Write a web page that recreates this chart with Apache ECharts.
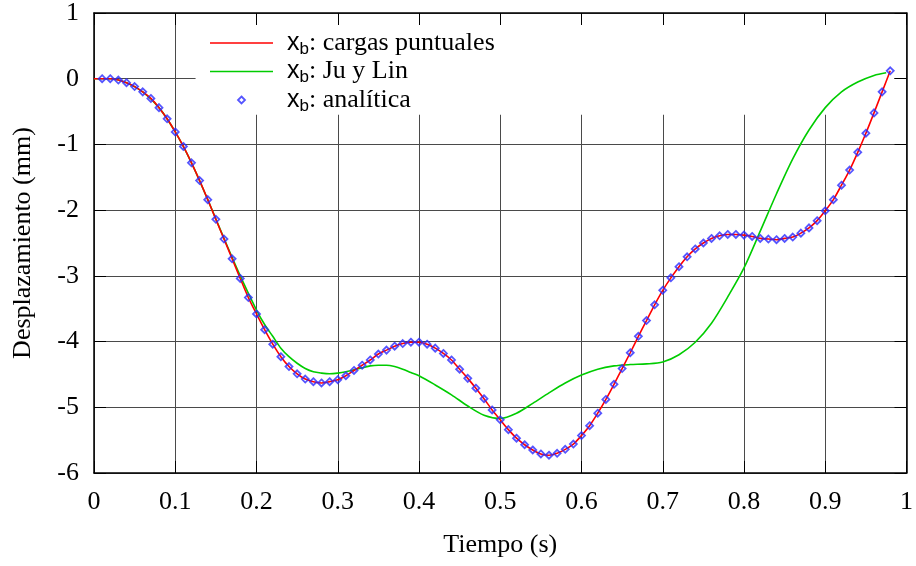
<!DOCTYPE HTML>
<html>
<head>
  <meta charset="utf-8" />
  <title>Desplazamiento x_b</title>
  <style>
    html, body { margin: 0; padding: 0; background: #fff; }
    #main { width: 916px; height: 566px; }
  </style>
</head>
<body>
  <div id="main"></div>
  <script src="https://cdn.jsdelivr.net/npm/echarts@6.0.0/dist/echarts.min.js"></script>
  <script type="text/javascript">
    // ejes
    var xTicks = [0, 0.1, 0.2, 0.3, 0.4, 0.5, 0.6, 0.7, 0.8, 0.9, 1];
    var yTicks = [-6, -5, -4, -3, -2, -1, 0, 1];

    // x_b analitica (cada 0.01 s)
    var tAnalitica = [0.01, 0.02, 0.03, 0.04, 0.05, 0.06, 0.07, 0.08, 0.09, 0.10,
      0.11, 0.12, 0.13, 0.14, 0.15, 0.16, 0.17, 0.18, 0.19, 0.20,
      0.21, 0.22, 0.23, 0.24, 0.25, 0.26, 0.27, 0.28, 0.29, 0.30,
      0.31, 0.32, 0.33, 0.34, 0.35, 0.36, 0.37, 0.38, 0.39, 0.40,
      0.41, 0.42, 0.43, 0.44, 0.45, 0.46, 0.47, 0.48, 0.49, 0.50,
      0.51, 0.52, 0.53, 0.54, 0.55, 0.56, 0.57, 0.58, 0.59, 0.60,
      0.61, 0.62, 0.63, 0.64, 0.65, 0.66, 0.67, 0.68, 0.69, 0.70,
      0.71, 0.72, 0.73, 0.74, 0.75, 0.76, 0.77, 0.78, 0.79, 0.80,
      0.81, 0.82, 0.83, 0.84, 0.85, 0.86, 0.87, 0.88, 0.89, 0.90,
      0.91, 0.92, 0.93, 0.94, 0.95, 0.96, 0.97, 0.98];
    var xAnalitica = [0, 0, -0.02, -0.06, -0.12, -0.20, -0.30, -0.44, -0.61, -0.81,
      -1.03, -1.28, -1.55, -1.84, -2.14, -2.44, -2.74, -3.04, -3.33, -3.58,
      -3.82, -4.04, -4.23, -4.38, -4.49, -4.57, -4.61, -4.63, -4.61, -4.58,
      -4.52, -4.44, -4.36, -4.28, -4.19, -4.13, -4.07, -4.03, -4.01, -4.01,
      -4.04, -4.10, -4.18, -4.28, -4.42, -4.56, -4.71, -4.87, -5.04, -5.19,
      -5.34, -5.47, -5.57, -5.65, -5.71, -5.73, -5.70, -5.64, -5.56, -5.43,
      -5.28, -5.09, -4.88, -4.65, -4.41, -4.17, -3.92, -3.68, -3.44, -3.22,
      -3.03, -2.86, -2.71, -2.59, -2.50, -2.43, -2.39, -2.37, -2.37, -2.38,
      -2.40, -2.43, -2.44, -2.45, -2.43, -2.41, -2.35, -2.27, -2.16, -2.01,
      -1.84, -1.62, -1.39, -1.12, -0.83, -0.52, -0.20, 0.12];

    // x_b cargas puntuales (arranca en t = 0)
    var tCargas = [0].concat(tAnalitica);
    var xCargas = [0].concat(xAnalitica);

    // x_b Ju y Lin
    var tJuLin = [0, 0.02, 0.04, 0.06, 0.08, 0.10, 0.12, 0.14, 0.16, 0.18, 0.20,
      0.21, 0.22, 0.23, 0.24, 0.25, 0.26, 0.27, 0.28, 0.29, 0.30,
      0.31, 0.32, 0.33, 0.34, 0.35, 0.36, 0.37, 0.38, 0.39, 0.40,
      0.42, 0.44, 0.46, 0.48, 0.50, 0.52, 0.54, 0.56, 0.58, 0.60,
      0.62, 0.64, 0.66, 0.68, 0.70, 0.72, 0.74, 0.76, 0.78, 0.80,
      0.82, 0.84, 0.86, 0.88, 0.90, 0.92, 0.94, 0.96, 0.975];
    var xJuLin = [0, 0, -0.06, -0.20, -0.44, -0.81, -1.28, -1.84, -2.43, -3.00, -3.52,
      -3.74, -3.92, -4.10, -4.23, -4.33, -4.41, -4.46, -4.48, -4.49, -4.48,
      -4.46, -4.43, -4.40, -4.37, -4.36, -4.36, -4.38, -4.42, -4.47, -4.52,
      -4.66, -4.81, -4.98, -5.12, -5.17, -5.09, -4.94, -4.78, -4.63, -4.51,
      -4.42, -4.37, -4.35, -4.34, -4.31, -4.20, -4.01, -3.72, -3.32, -2.88,
      -2.32, -1.75, -1.22, -0.78, -0.44, -0.20, -0.05, 0.05, 0.09];

    function pares(t, v) {
      var out = [];
      for (var i = 0; i < t.length; i++) {
        out.push([t[i], v[i]]);
      }
      return out;
    }

    var serif = 'Liberation Serif';
    var azul = '#2a2aff';
    var chart = echarts.init(document.getElementById('main'), null, { renderer: 'canvas' });

    var ejeX = {
      type: 'value',
      min: xTicks[0],
      max: xTicks[xTicks.length - 1],
      interval: 0.1
    };
    var ejeY = {
      type: 'value',
      min: yTicks[0],
      max: yTicks[yTicks.length - 1],
      interval: 1
    };
    var lineaEje = { show: true, onZero: false, lineStyle: { color: '#000', width: 1.5 } };
    var marcas = { show: true, inside: true, length: 12, lineStyle: { color: '#000', width: 1 } };
    var rejilla = { show: true, lineStyle: { color: '#4a4a4a', width: 1 } };
    var linea = 'path://M0,0H63V1.6H0Z';
    var rombo = 'path://M0,-1L1,0L0,1L-1,0Z';

    chart.setOption({
      animation: false,
      backgroundColor: '#fff',
      grid: { left: 94, top: 13, right: 6, bottom: 93 },
      legend: {
        orient: 'vertical',
        left: 205,
        top: 25,
        itemWidth: 63,
        itemHeight: 7,
        itemGap: 1,
        z: 6,
        data: [
          { name: 'cargas puntuales', icon: linea },
          { name: 'Ju y Lin', icon: linea },
          { name: 'analítica', icon: rombo, itemStyle: { color: 'rgba(0,0,0,0)', borderColor: azul, borderWidth: 1.8 } }
        ],
        formatter: function (name) {
          return '{x|x}{b|b}{t|: ' + name + '}';
        },
        textStyle: {
          rich: {
            x: { fontFamily: 'Liberation Sans', fontSize: 25, color: '#000', padding: [0, 0, 0, 9], lineHeight: 29 },
            b: { fontFamily: 'Liberation Sans', fontSize: 17, color: '#000', verticalAlign: 'bottom', padding: [8, 0, 0, 0], lineHeight: 29 },
            t: { fontFamily: serif, fontSize: 26, color: '#000', lineHeight: 29 }
          }
        }
      },
      xAxis: [
        Object.assign({}, ejeX, {
          position: 'bottom',
          name: 'Tiempo (s)',
          nameLocation: 'middle',
          nameGap: 59,
          nameTextStyle: { fontFamily: serif, fontSize: 26, color: '#000' },
          axisLine: lineaEje,
          axisTick: marcas,
          axisLabel: { fontFamily: serif, fontSize: 26, color: '#000', margin: 16 },
          splitLine: rejilla
        }),
        Object.assign({}, ejeX, {
          position: 'top',
          z: 5,
          axisLine: lineaEje,
          axisTick: marcas,
          axisLabel: { show: false },
          splitLine: { show: false }
        })
      ],
      yAxis: [
        Object.assign({}, ejeY, {
          position: 'left',
          name: 'Desplazamiento (mm)',
          nameLocation: 'middle',
          nameGap: 58,
          nameTextStyle: { fontFamily: serif, fontSize: 26, color: '#000' },
          axisLine: lineaEje,
          axisTick: marcas,
          axisLabel: { fontFamily: serif, fontSize: 26, color: '#000', margin: 15 },
          splitLine: rejilla
        }),
        Object.assign({}, ejeY, {
          position: 'right',
          z: 5,
          axisLine: lineaEje,
          axisTick: marcas,
          axisLabel: { show: false },
          splitLine: { show: false }
        })
      ],
      series: [
        {
          name: 'cargas puntuales',
          type: 'line',
          symbol: 'none',
          smooth: 0.3,
          z: 3,
          lineStyle: { color: '#ff0000', width: 1.6 },
          itemStyle: { color: '#ff0000' },
          data: pares(tCargas, xCargas)
        },
        {
          name: 'Ju y Lin',
          type: 'line',
          symbol: 'none',
          smooth: 0.3,
          z: 2,
          lineStyle: { color: '#00cc00', width: 1.6 },
          itemStyle: { color: '#00cc00' },
          data: pares(tJuLin, xJuLin),
          // recuadro opaco de la leyenda: tapa la rejilla por debajo de las curvas
          markArea: {
            silent: true,
            z: 1,
            itemStyle: { color: '#fff', borderWidth: 0 },
            data: [[{ coord: [0.125, 0.97] }, { coord: [0.985, -0.55] }]]
          }
        },
        {
          name: 'analítica',
          type: 'scatter',
          symbol: 'diamond',
          symbolSize: 7,
          z: 4,
          itemStyle: { color: 'rgba(0,0,0,0)', borderColor: azul, borderWidth: 1.8 },
          data: pares(tAnalitica, xAnalitica)
        }
      ]
    });
  </script>
</body>
</html>
